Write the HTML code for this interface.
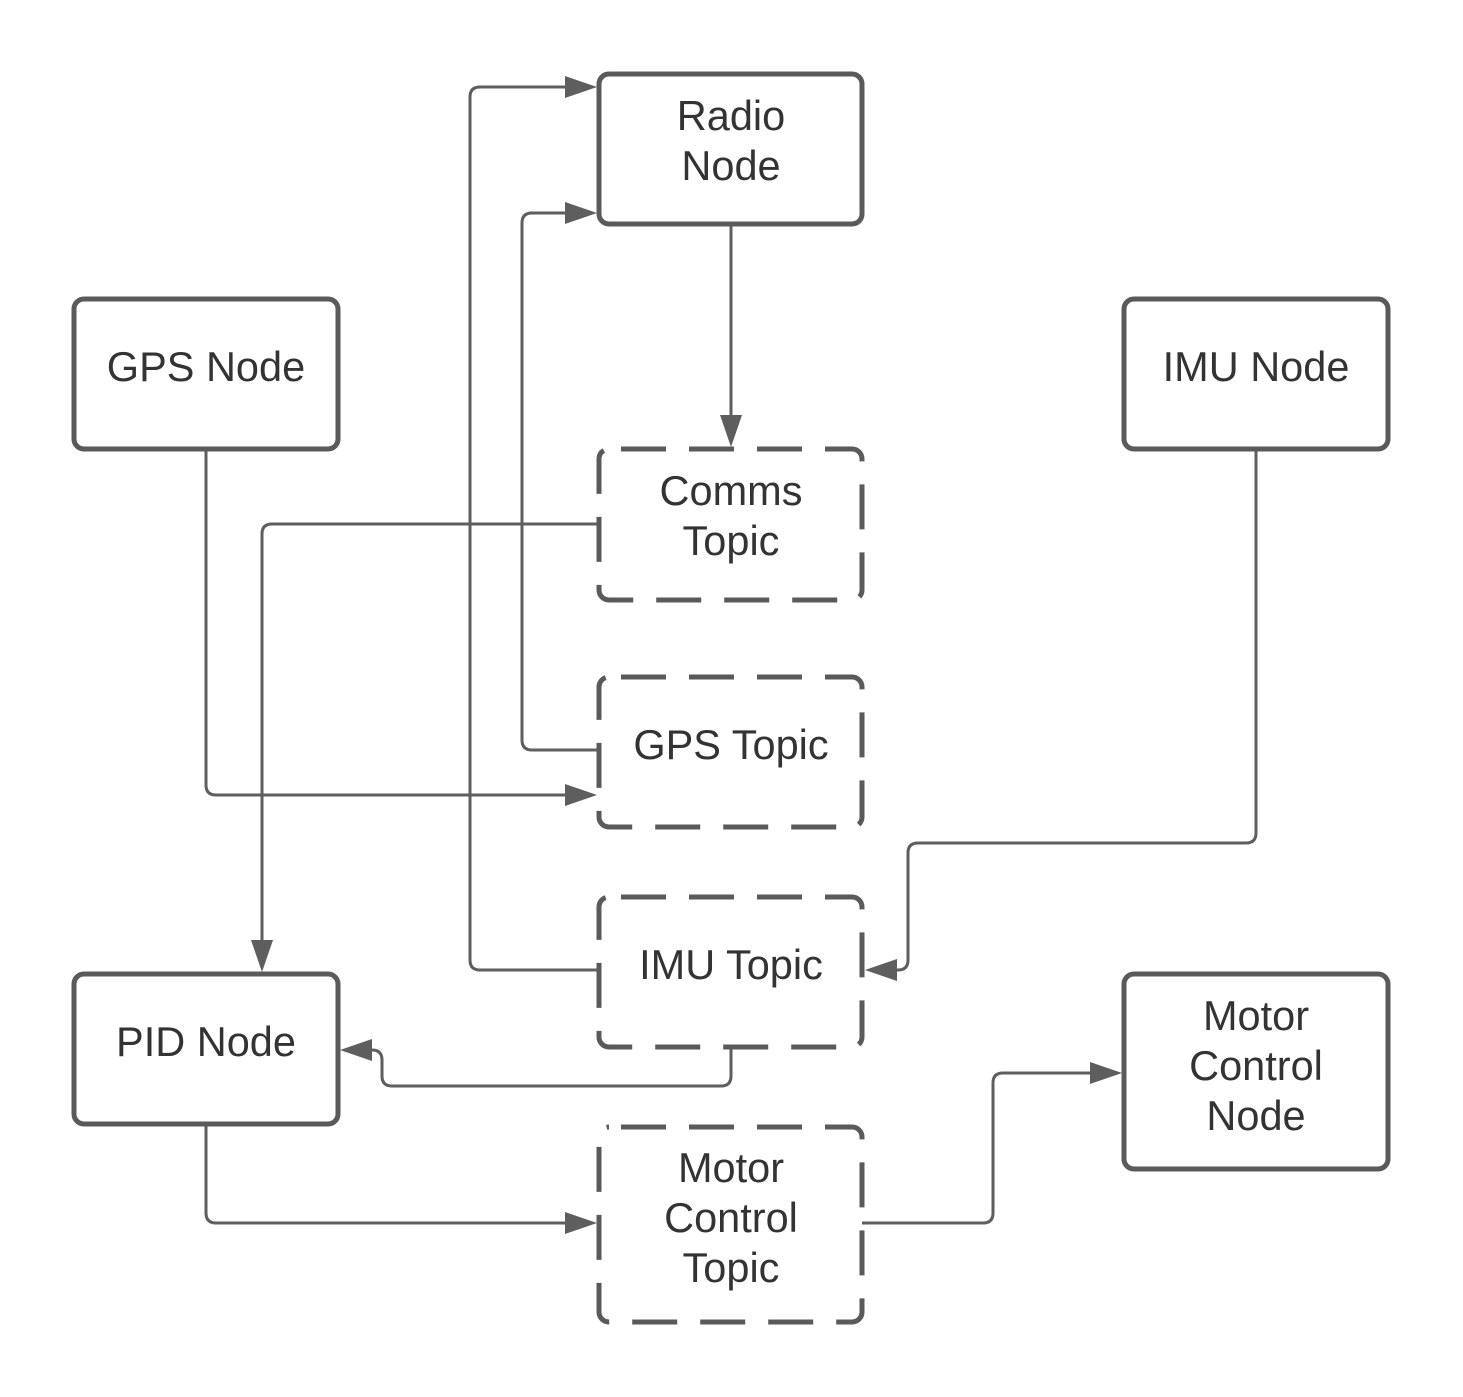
<!DOCTYPE html>
<html><head><style>body{margin:0;background:#fff}svg{display:block}</style></head><body>
<svg width="1463" height="1397" viewBox="0 0 1463 1397" xmlns="http://www.w3.org/2000/svg">
<g fill="none" stroke="#5e5e5e" stroke-width="3" stroke-linejoin="round">
<path d="M599,970 H480 Q470,970 470,960 V97 Q470,87 480,87 H568"/>
<path d="M599,750 H532 Q522,750 522,740 V223 Q522,213 532,213 H568"/>
<path d="M731,226 V416"/>
<path d="M599,524 H272 Q262,524 262,534 V942"/>
<path d="M206,449 V785 Q206,795 216,795 H568"/>
<path d="M1256,449 V833 Q1256,843 1246,843 H918 Q908,843 908,853 V960 Q908,970 898,970 H896"/>
<path d="M731,1049 V1076 Q731,1086 721,1086 H392 Q382,1086 382,1076 V1060 Q382,1050 372,1050 H372"/>
<path d="M206,1124 V1213 Q206,1223 216,1223 H568"/>
<path d="M862,1223 H983 Q993,1223 993,1213 V1083 Q993,1073 1003,1073 H1090"/>
</g>
<g fill="#5e5e5e">
<path d="M597,87 L565,76 L565,98Z"/>
<path d="M597,213 L565,202 L565,224Z"/>
<path d="M731,447 L720,415 L742,415Z"/>
<path d="M262,972 L251,940 L273,940Z"/>
<path d="M597,795 L565,784 L565,806Z"/>
<path d="M865,970 L897,959 L897,981Z"/>
<path d="M340,1050 L372,1039 L372,1061Z"/>
<path d="M597,1223 L565,1212 L565,1234Z"/>
<path d="M1122,1073 L1090,1062 L1090,1084Z"/>
</g>
<g fill="none" stroke="#5a5a5a" stroke-width="5">
<rect x="599" y="74" width="263" height="150" rx="10"/>
<rect x="74" y="299" width="264" height="150" rx="10"/>
<rect x="1124" y="299" width="264" height="150" rx="10"/>
<rect x="74" y="974" width="264" height="150" rx="10"/>
<rect x="1124" y="974" width="264" height="195" rx="10"/>
</g>
<g fill="none" stroke="#5a5a5a" stroke-width="5" stroke-dasharray="45 23" stroke-dashoffset="-12">
<rect x="599" y="449" width="263" height="151" rx="10"/>
<rect x="599" y="677" width="263" height="150" rx="10"/>
<rect x="599" y="897" width="263" height="150" rx="10"/>
<rect x="599" y="1127" width="263" height="195" rx="10"/>
</g>
<g font-family="Liberation Sans, sans-serif" font-size="41.5" fill="#333" text-anchor="middle">
<text x="731" y="130">Radio</text><text x="731" y="180">Node</text>
<text x="206" y="381">GPS Node</text>
<text x="1256" y="381">IMU Node</text>
<text x="731" y="505">Comms</text><text x="731" y="555">Topic</text>
<text x="731" y="759">GPS Topic</text>
<text x="731" y="979">IMU Topic</text>
<text x="206" y="1056">PID Node</text>
<text x="1256" y="1030">Motor</text><text x="1256" y="1080">Control</text><text x="1256" y="1130">Node</text>
<text x="731" y="1182">Motor</text><text x="731" y="1232">Control</text><text x="731" y="1282">Topic</text>
</g>
</svg>
</body></html>
